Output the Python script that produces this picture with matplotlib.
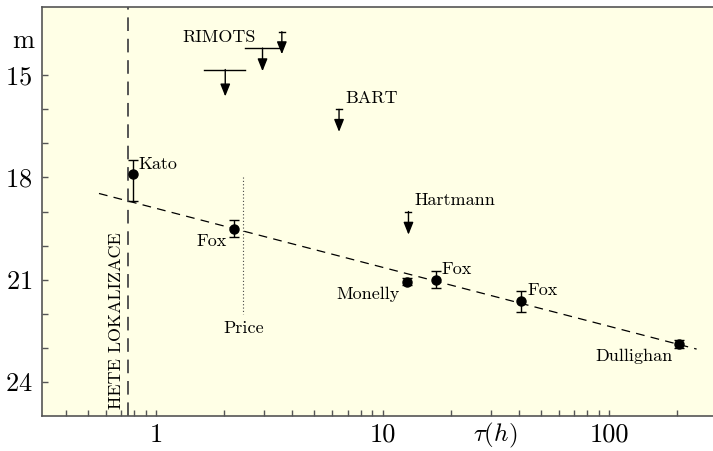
import matplotlib.pyplot as plt
from matplotlib.ticker import FixedLocator, NullFormatter, LogLocator

plt.rcParams['font.family'] = 'cmr10'
plt.rcParams['mathtext.fontset'] = 'cm'
plt.rcParams['axes.formatter.use_mathtext'] = True

# detections: tau (h), magnitude, lower/upper error
det_x = [0.79, 2.21, 12.8, 17.2, 40.9, 203]
det_y = [17.9, 19.5, 21.06, 21.0, 21.62, 22.9]
det_err_lo = [0.4, 0.25, 0.1, 0.25, 0.28, 0.12]
det_err_hi = [0.8, 0.25, 0.1, 0.25, 0.32, 0.12]

# upper limits
lim_x = [2.02, 2.95, 3.59, 6.42, 13.0]
lim_top = [14.83, 14.2, 13.72, 16.0, 19.0]
lim_tip = [15.62, 14.88, 14.38, 16.66, 19.68]
lim_xlo = [1.63, 2.47, None, None, None]
lim_xhi = [2.47, 3.53, None, None, None]

fit_x = [0.56, 243]
fit_y = [18.47, 23.04]
hete_x = 0.75
price_x = 2.43
price_y = [18.0, 22.0]

fig = plt.figure(figsize=(7.13, 4.51), dpi=100)
ax = fig.add_axes([0.059, 0.078, 0.941, 0.906])
ax.set_facecolor('#ffffe6')

ax.set_xscale('log')
ax.set_xlim(0.314, 287)
ax.set_ylim(25, 13)

# fit line and markers
ax.plot(fit_x, fit_y, color='black', lw=0.9, dashes=(7, 5))
ax.axvline(hete_x, color='#555555', lw=1.4, dashes=(7, 4))
ax.plot([price_x, price_x], price_y, color='#444444', lw=0.8, ls=(0, (1, 2)))

ax.errorbar(det_x, det_y, yerr=[det_err_lo, det_err_hi], fmt='o', color='black',
            ms=6.5, lw=1, capsize=3.5, capthick=1)

for i in range(len(lim_x)):
    if lim_xlo[i] is not None:
        ax.plot([lim_xlo[i], lim_xhi[i]], [lim_top[i], lim_top[i]], color='black', lw=1)
    else:
        ax.plot([lim_x[i] * 0.97, lim_x[i] * 1.03], [lim_top[i], lim_top[i]], color='black', lw=1)
    ax.annotate('', xy=(lim_x[i], lim_tip[i]), xytext=(lim_x[i], lim_top[i]),
                arrowprops=dict(arrowstyle='-|>,head_length=0.75,head_width=0.3',
                                color='black', lw=1, shrinkA=0, shrinkB=0))

fs = 13
ax.text(0.835, 17.6, 'Kato', fontsize=fs, va='center', ha='left')
ax.text(2.06, 19.88, 'Fox', fontsize=fs, va='center', ha='right')
ax.text(11.9, 21.42, 'Monelly', fontsize=fs, va='center', ha='right')
ax.text(18.2, 20.69, 'Fox', fontsize=fs, va='center', ha='left')
ax.text(43.5, 21.31, 'Fox', fontsize=fs, va='center', ha='left')
ax.text(190, 23.26, 'Dullighan', fontsize=fs, va='center', ha='right')
ax.text(price_x, 22.44, 'Price', fontsize=fs, va='center', ha='center')
ax.text(2.76, 13.87, 'RIMOTS', fontsize=fs, va='center', ha='right')
ax.text(6.83, 15.68, 'BART', fontsize=fs, va='center', ha='left')
ax.text(13.76, 18.68, 'Hartmann', fontsize=fs, va='center', ha='left')
ax.text(0.671, 24.8, 'HETE LOKALIZACE', fontsize=fs, rotation=90, va='bottom', ha='center')

# axes styling
for s in ['left', 'bottom', 'top']:
    ax.spines[s].set_color('#555555')
    ax.spines[s].set_linewidth(1.2)
ax.spines['right'].set_visible(False)

ax.yaxis.set_major_locator(FixedLocator([15, 18, 21, 24]))
ax.yaxis.set_minor_locator(FixedLocator([16, 17, 19, 20, 22, 23]))
ax.xaxis.set_minor_locator(LogLocator(base=10, subs=range(2, 10)))
ax.xaxis.set_minor_formatter(NullFormatter())
ax.set_xticks([1, 10, 100])
ax.set_xticklabels(['1', '10', '100'])
ax.tick_params(which='both', direction='in', color='#555555', width=1, length=4,
               labelsize=19, top=False, right=False)
ax.tick_params(axis='x', which='major', pad=5)
ax.tick_params(axis='y', which='major', pad=7)

ax.text(-0.012, 14.0, 'm', transform=ax.get_yaxis_transform(), fontsize=19,
        ha='right', va='center')
ax.text(31.3, -0.047, r'$\tau(h)$', transform=ax.get_xaxis_transform(), fontsize=18,
        ha='center', va='center')

fig.savefig('out.png', dpi=100)
